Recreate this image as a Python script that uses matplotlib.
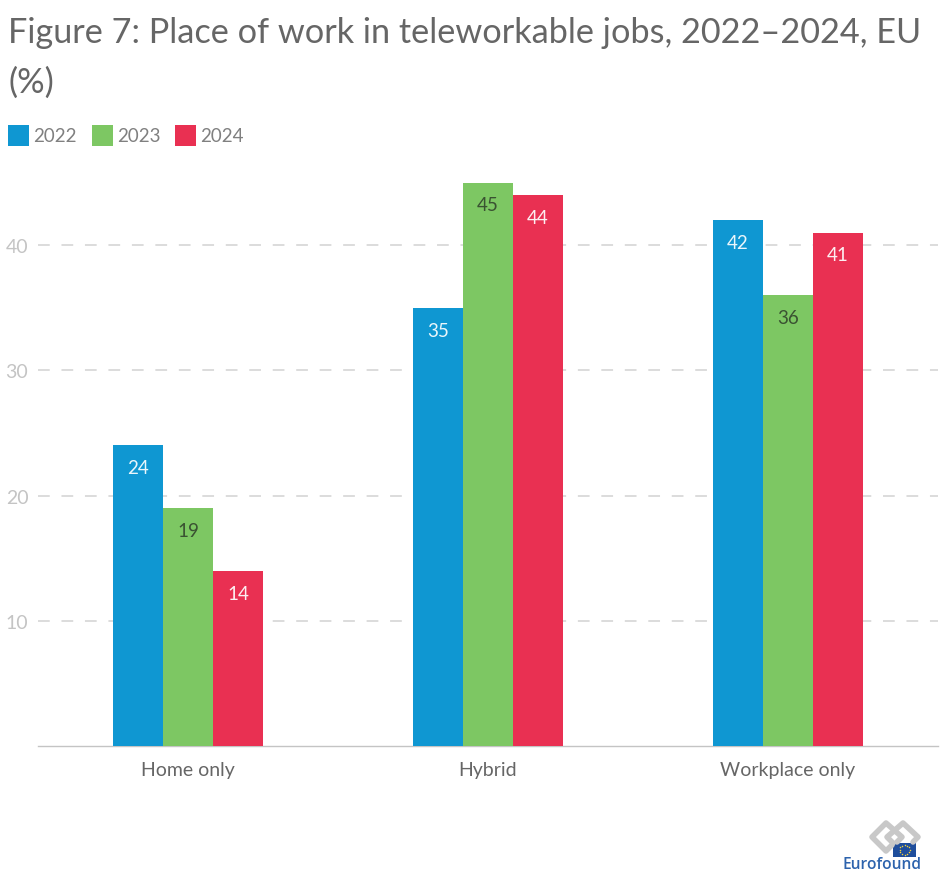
import numpy as np
import matplotlib
matplotlib.use("Agg")
import matplotlib.pyplot as plt
from matplotlib.patches import Rectangle

# ==== DATA ====
categories = ["Home only", "Hybrid", "Workplace only"]
years = ["2022", "2023", "2024"]
values_2022 = [24, 35, 42]
values_2023 = [19, 45, 36]
values_2024 = [14, 44, 41]
y_ticks = [10, 20, 30, 40]

BLUE = "#0f97d2"
GREEN = "#7dc763"
RED = "#e93052"
W, H = 946, 887

plt.rcParams["font.family"] = ["Lato", "DejaVu Sans"]

fig = plt.figure(figsize=(W / 100, H / 100), dpi=100)


def px_rect(x0, y_top, x1, y_bottom):
    return [x0 / W, 1 - y_bottom / H, (x1 - x0) / W, (y_bottom - y_top) / H]


ax = fig.add_axes(px_rect(38, 171, 938, 747))
ax.set_xlim(-0.5, 2.5)
ax.set_ylim(0, 46)

x = np.arange(len(categories))
width = 1 / 6
series = [
    (values_2022, BLUE, "#eaf6fb", -width),
    (values_2023, GREEN, "#3a5232", 0),
    (values_2024, RED, "#fdeef1", width),
]
for vals, color, txt, off in series:
    bars = ax.bar(x + off, vals, width=width, color=color, zorder=3)
    for b, v in zip(bars, vals):
        ax.annotate(str(v), (b.get_x() + b.get_width() / 2, v), xytext=(0, -10),
                    textcoords="offset points", ha="center", va="top",
                    fontsize=13.5, color=txt, zorder=4)

# grid
ax.set_yticks(y_ticks)
ax.yaxis.grid(True, color="#d9d9d9", linewidth=1.3, linestyle=(0, (6.5, 6.5)), zorder=0)
ax.xaxis.grid(False)
ax.tick_params(axis="y", length=0, labelsize=14, labelcolor="#c4c4c4", pad=7)
ax.tick_params(axis="x", length=0, labelsize=14, labelcolor="#666666", pad=11)
ax.set_xticks(x)
ax.set_xticklabels(categories)
for s in ["top", "right", "left"]:
    ax.spines[s].set_visible(False)
ax.spines["bottom"].set_color("#c4c4c4")
ax.spines["bottom"].set_linewidth(1)

# title
fig.text(8 / W, 1 - 33 / H, "Figure 7: Place of work in teleworkable jobs, 2022–2024, EU",
         fontsize=24.65, color="#666666", va="center", ha="left")
fig.text(8 / W, 1 - 83 / H, "(%)", fontsize=24.65, color="#666666", va="center", ha="left")

# legend
for lx, yr, color in zip([8, 92, 175], years, [BLUE, GREEN, RED]):
    fig.add_artist(Rectangle((lx / W, 1 - 147 / H), 21 / W, 21 / H, color=color,
                             transform=fig.transFigure, lw=0))
    fig.text((lx + 25.5) / W, 1 - 136 / H, yr, fontsize=13.5, color="#808080",
             va="center", ha="left")

# logo, drawn in pixel coordinates
logo = fig.add_axes([0, 0, 1, 1], zorder=5)
logo.set_xlim(0, W)
logo.set_ylim(H, 0)
logo.axis("off")
logo.patch.set_alpha(0)
grey = dict(color="#c8c8c8", lw=4, solid_capstyle="round", solid_joinstyle="round")
logo.plot([892, 886, 872, 886, 902, 897], [846, 852, 838, 824, 838, 843], **grey)
logo.plot([893, 887, 903, 918, 913], [844, 838, 824, 838, 843], **grey)
logo.add_patch(Rectangle((893, 844), 23, 14.5, color="#1f4e9c", lw=0))
ang = np.linspace(0, 2 * np.pi, 12, endpoint=False)
logo.scatter(904.5 + 5 * np.cos(ang), 851 + 5 * np.sin(ang), s=1.2, color="#f5d33b", lw=0)
logo.text(882, 865, "Eurofound", fontsize=11.2, color="#2d63ad", ha="center", va="center",
          family=["Open Sans", "DejaVu Sans"], weight="semibold")

fig.savefig("out.png", dpi=100, facecolor="white")
